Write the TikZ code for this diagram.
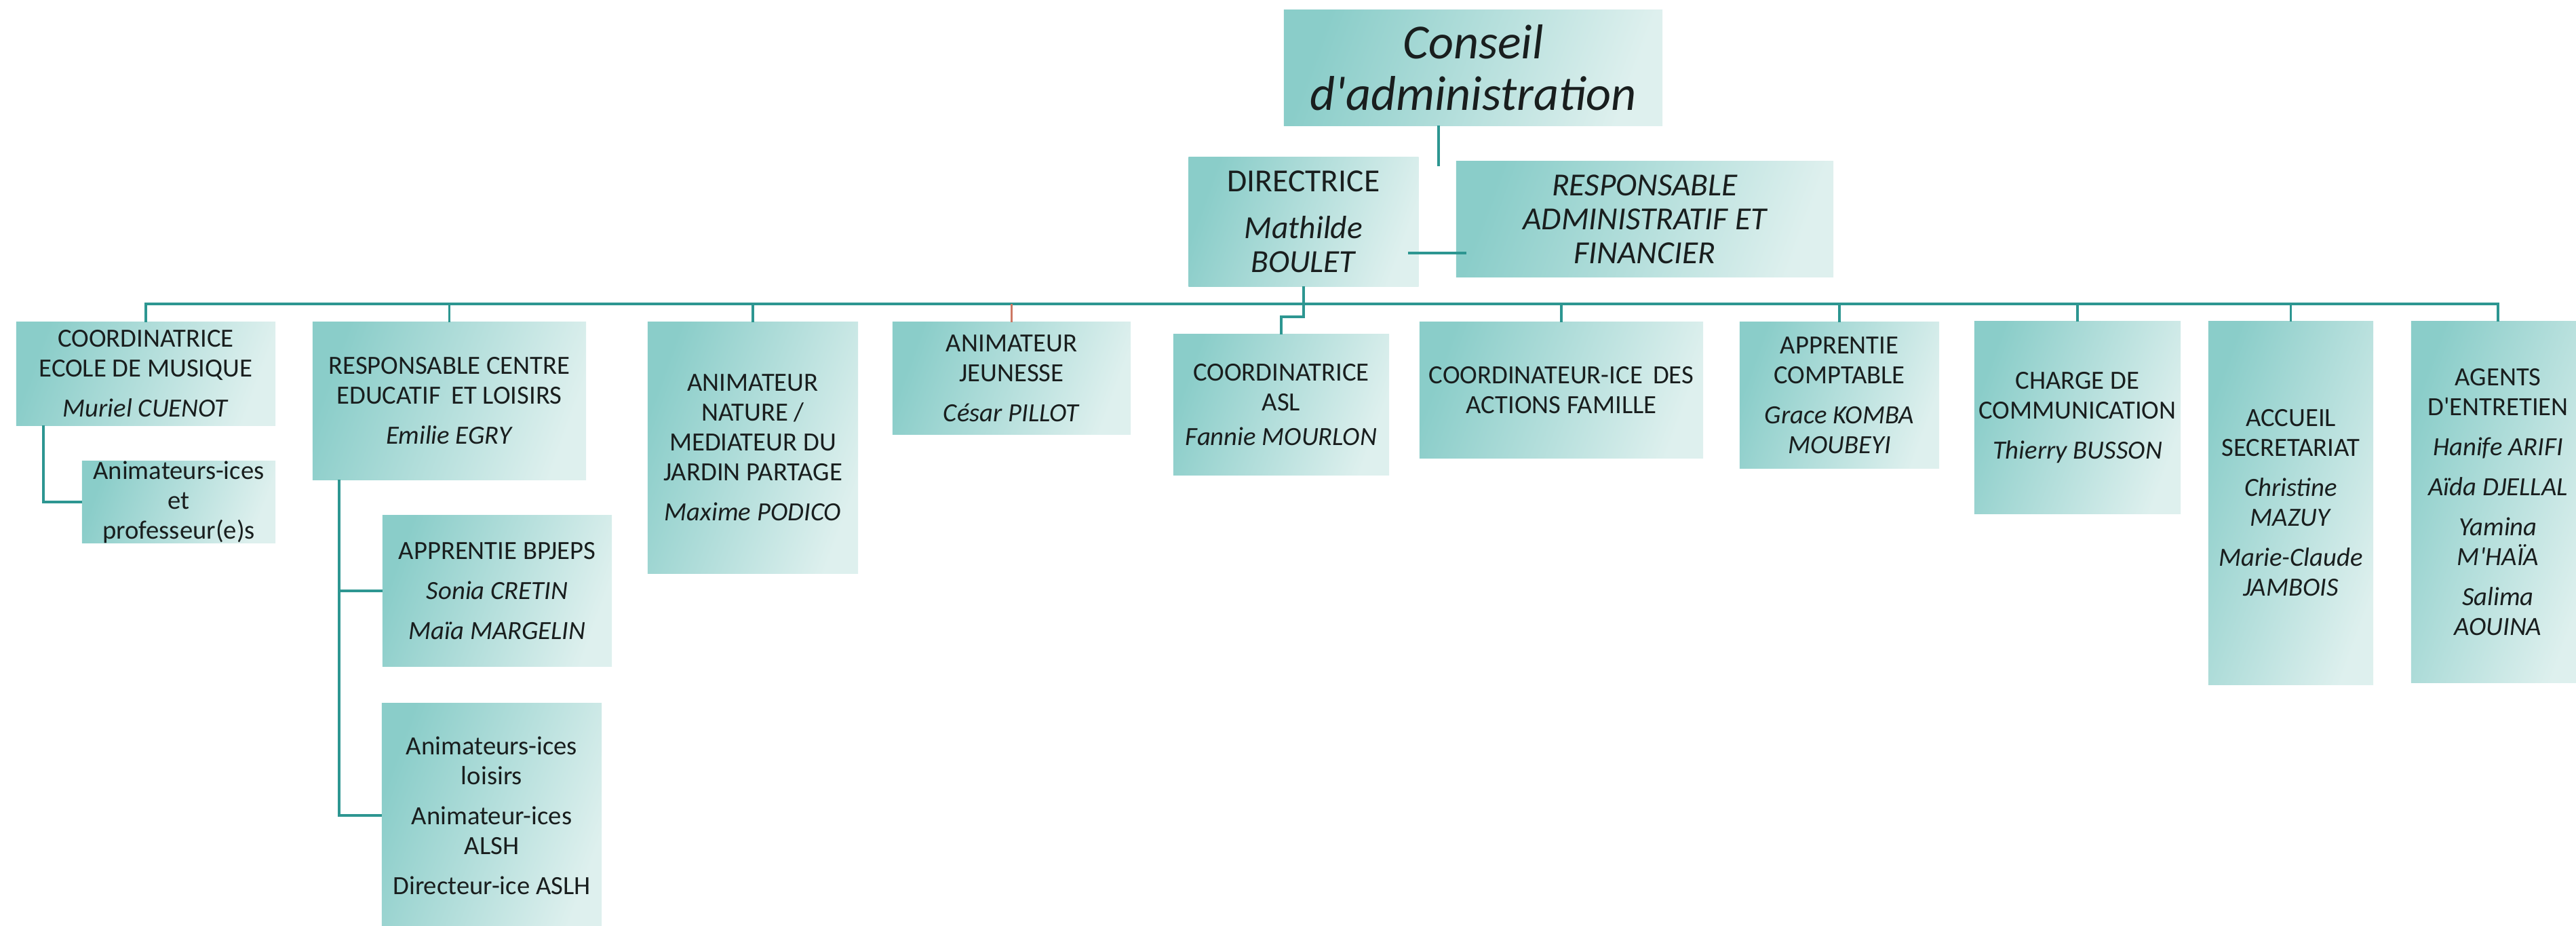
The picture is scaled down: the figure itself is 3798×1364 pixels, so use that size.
\documentclass[tikz,border=0pt]{standalone}
\usepackage{fontspec}
\setmainfont{Carlito}
\usetikzlibrary{calc}
\definecolor{fondfonce}{RGB}{138,205,201}
\definecolor{fondclair}{RGB}{222,240,238}
\definecolor{trait}{RGB}{45,150,145}
\definecolor{traitrouge}{RGB}{205,120,100}
\definecolor{texte}{RGB}{25,30,30}
\begin{document}
\begin{tikzpicture}[x=0.01cm,y=-0.01cm,
    poste/.style={left color=fondfonce,right color=fondclair,shading angle=70,
        inner sep=0pt,outer sep=0pt,align=center,text=texte,
        font=\fontsize{11}{12.5}\selectfont},
    grand/.style={font=\fontsize{13.5}{14.2}\selectfont},
    lien/.style={draw=trait,line width=1.1pt}]
    \useasboundingbox (0,0) rectangle (3798,1364);
    \clip (0,0) rectangle (3798,1364);

    % direction
    \node[poste,minimum width=5.58cm,minimum height=1.70cm,font=\fontsize{20.5}{21.6}\selectfont\itshape]
        (cons) at (2172,100) {Conseil\\d\textquotesingle administration};
    \node[poste,grand,minimum width=3.39cm,minimum height=1.90cm] (dir) at (1922,327)
        {DIRECTRICE\\[5.5pt]\textit{Mathilde}\\\textit{BOULET}};
    \node[poste,grand,minimum width=5.56cm,minimum height=1.71cm,font=\fontsize{13.5}{14.2}\selectfont\itshape]
        (raf) at (2425,323) {RESPONSABLE\\ADMINISTRATIF ET\\FINANCIER};

    % postes
    \node[poste,minimum width=3.82cm,minimum height=1.52cm] (ecole) at (215,551)
        {COORDINATRICE\\ECOLE DE MUSIQUE\\[4.3pt]\textit{Muriel CUENOT}};
    \node[poste,minimum width=2.85cm,minimum height=1.20cm] (prof) at (263.5,740)
        {Animateurs-ices\\et\\professeur(e)s};
    \node[poste,minimum width=4.03cm,minimum height=2.32cm] (cel) at (662.5,591)
        {RESPONSABLE CENTRE\\EDUCATIF\, ET LOISIRS\\[4.3pt]\textit{Emilie EGRY}};
    \node[poste,minimum width=3.38cm,minimum height=2.22cm] (bpjeps) at (733,871)
        {APPRENTIE BPJEPS\\[4.3pt]\textit{Sonia CRETIN}\\[4.3pt]\textit{Maïa MARGELIN}};
    \node[poste,minimum width=3.24cm,minimum height=3.30cm] (alsh) at (725,1202)
        {Animateurs-ices\\loisirs\\[4.3pt]Animateur-ices\\ALSH\\[4.3pt]Directeur-ice ASLH};
    \node[poste,minimum width=3.10cm,minimum height=3.70cm] (nature) at (1110,660)
        {ANIMATEUR\\NATURE /\\MEDIATEUR DU\\JARDIN PARTAGE\\[4.3pt]\textit{Maxime PODICO}};
    \node[poste,minimum width=3.51cm,minimum height=1.65cm] (jeun) at (1491.5,557.5)
        {ANIMATEUR\\JEUNESSE\\[4.3pt]\textit{César PILLOT}};
    \node[poste,minimum width=3.18cm,minimum height=2.07cm] (asl) at (1889,596.5)
        {COORDINATRICE\\ASL\\[2pt]\textit{Fannie MOURLON}};
    \node[poste,minimum width=4.18cm,minimum height=2.00cm] (fam) at (2302,575)
        {COORDINATEUR-ICE\, DES\\ACTIONS FAMILLE};
    \node[poste,minimum width=2.94cm,minimum height=2.15cm] (compt) at (2712,582.5)
        {APPRENTIE\\COMPTABLE\\[4.3pt]\textit{Grace KOMBA}\\\textit{MOUBEYI}};
    \node[poste,minimum width=3.04cm,minimum height=2.83cm] (com) at (3063,615.5)
        {CHARGE DE\\COMMUNICATION\\[4.3pt]\textit{Thierry BUSSON}};
    \node[poste,minimum width=2.43cm,minimum height=5.35cm] (acc) at (3377.5,741.5)
        {ACCUEIL\\SECRETARIAT\\[4.3pt]\textit{Christine}\\\textit{MAZUY}\\[4.3pt]\textit{Marie-Claude}\\\textit{JAMBOIS}};
    \node[poste,minimum width=2.56cm,minimum height=5.32cm] (ent) at (3683,740)
        {AGENTS\\D\textquotesingle ENTRETIEN\\[4.3pt]\textit{Hanife ARIFI}\\[4.3pt]\textit{Aïda DJELLAL}\\[4.3pt]\textit{Yamina}\\\textit{M\textquotesingle HAÏA}\\[4.3pt]\textit{Salima}\\\textit{AOUINA}};

    % liens
    \coordinate (ca) at (2121,245);
    \coordinate (bus) at (0,448);
    \draw[lien] (cons.south -| ca) -- (ca);
    \draw[lien] ($(dir.east)+(-16,46)$) -- ($(raf.west)+(15,50)$);
    \draw[lien] (ecole.north) -- (ecole.north |- bus) -- (ent.north |- bus) -- (ent.north);
    \foreach \n in {cel,nature,fam,compt,com,acc}
        \draw[lien] (\n.north) -- (\n.north |- bus);
    \draw[lien,draw=traitrouge] (jeun.north) -- (jeun.north |- bus);
    \draw[lien] (dir.south) -- ++(0,45) -| (asl.north);
    \draw[lien] ($(ecole.south west)+(40,0)$) |- (prof.west);
    \draw[lien] ($(cel.south west)+(39,0)$) |- (bpjeps.west);
    \draw[lien] ($(cel.south west)+(39,0)$) |- (alsh.west);
\end{tikzpicture}
\end{document}
